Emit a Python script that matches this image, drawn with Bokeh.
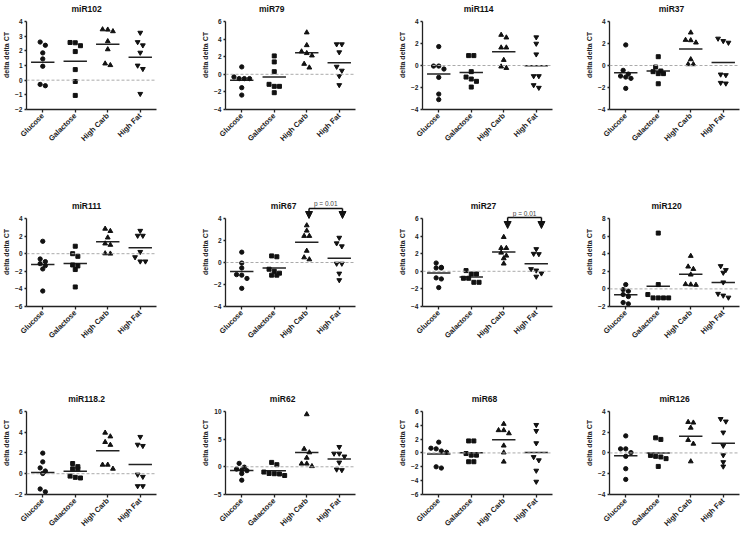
import math
import numpy as np
from bokeh.plotting import figure
from bokeh.layouts import column, row
from bokeh.models import Span, Arrow, NormalHead, Label, FixedTicker
from bokeh.embed import file_html
from bokeh.resources import INLINE

groups = ["Glucose", "Galactose", "High Carb", "High Fat"]

# values per panel: [Glucose, Galactose, High Carb, High Fat]
miR102 = [[2.38, 2.6, 1.86, 1.45, 0.95, -0.38, -0.29],
          [2.55, 2.35, 2.57, 1.95, 0.72, -0.09, -1.04],
          [3.44, 3.33, 3.46, 2.65, 2.1, 1.02, 1.13],
          [3.24, 2.6, 2.38, 1.88, 1.0, 0.77, -0.93]]
miR79 = [[0.84, -0.49, -0.49, -0.49, -0.3, -1.52, -2.36],
         [2.09, 1.41, 0.3, -1.37, -1.37, -1.14, -2.09],
         [4.75, 3.3, 2.59, 2.4, 2.13, 0.76, 1.18],
         [3.42, 3.42, 2.51, 0.87, 0.42, -0.19, -1.22]]
miR114 = [[1.72, -0.05, -0.05, -0.32, -1.08, -2.6, -3.1],
          [0.9, 0.9, -0.56, -1.05, -1.23, -1.44, -1.96],
          [2.78, 2.54, 1.63, 1.63, 0.5, -0.23, -0.1],
          [2.57, 1.99, 1.02, -0.96, -0.96, -2.02, -1.78]]
miR37 = [[1.87, -0.44, -0.78, -1.05, -1.17, -0.96, -2.08],
         [0.8, -0.14, -0.5, -0.74, -0.74, -0.56, -1.66],
         [2.99, 2.29, 2.08, 2.32, 0.56, 0.11, 0.11],
         [2.45, 2.08, 2.23, -0.81, -0.87, -1.63, -1.57]]
miR111 = [[1.41, -0.6, -0.9, -1.13, -1.36, -1.73, -4.24],
          [0.85, 0.0, -0.3, -1.39, -1.28, -1.8, -3.78],
          [2.83, 2.57, 1.83, 1.15, 1.0, 0.0, 0.03],
          [2.61, 2.05, 2.05, 0.21, -0.39, -0.87, -0.87]]
miR67 = [[0.94, -0.05, -0.5, -1.15, -1.1, -1.45, -2.35],
         [0.52, 0.6, -0.61, -0.8, -0.97, -1.15, -1.15],
         [3.37, 2.89, 2.41, 2.41, 1.06, 0.28, 0.46],
         [2.26, 1.75, 1.48, -0.1, -0.1, -1.0, -1.6]]
miR27 = [[0.94, 0.45, 0.38, 0.38, -0.75, -0.87, -1.85],
         [0.08, -0.3, -0.3, -0.79, -0.79, -1.25, -1.25],
         [3.89, 2.64, 2.64, 2.11, 1.77, 1.47, 0.87],
         [2.53, 1.96, 2.0, 0.26, 0.1, -0.23, -0.6]]
miR120 = [[0.49, -0.26, -0.08, -0.64, -0.87, -1.7, -1.55],
          [6.34, 0.49, -0.64, -1.02, -1.02, -1.02, -1.02],
          [3.74, 2.26, 2.53, 1.62, 0.45, 0.49, 0.53],
          [2.6, 2.15, 1.85, 0.75, -0.55, -0.75, -0.98]]
miR118_2 = [[1.98, 1.14, 0.56, 0.26, 0.02, -1.47, -1.74],
            [0.98, 0.47, 0.47, 0.68, -0.23, -0.41, -0.35],
            [3.94, 3.58, 3.04, 2.77, 0.86, 0.47, 0.86],
            [3.55, 2.68, 2.8, -0.08, -0.29, -1.19, -1.19]]
miR62 = [[0.61, -0.07, -0.41, -0.59, -0.7, -1.22, -2.42],
         [0.79, 0.38, -0.95, -1.3, -1.57, -1.25, -1.2],
         [9.46, 3.22, 2.59, 1.62, 0.56, 0.56, 0.1],
         [3.59, 2.39, 2.39, 1.87, 0.78, -0.59, -0.48]]
miR68 = [[1.55, 0.68, 0.27, 0.09, 0.59, -2.18, -2.0],
         [1.73, 1.73, -0.32, -0.32, -0.09, -1.27, -1.27],
         [4.18, 3.27, 3.27, 2.82, 1.05, 0.05, -1.27],
         [4.05, 3.18, 1.41, -1.05, -0.59, -2.55, -4.14]]
miR126 = [[1.64, 0.39, 0.39, 0.03, -0.33, -1.52, -2.55],
          [1.3, 1.45, -0.24, -0.39, -0.33, -0.55, -1.3],
          [2.97, 2.91, 2.42, 1.24, 0.88, -0.82],
          [3.27, 3.03, 1.97, 0.7, -0.21, -1.3, -0.88]]

titles = ["miR102", "miR79", "miR114", "miR37",
          "miR111", "miR67", "miR27", "miR120",
          "miR118.2", "miR62", "miR68", "miR126"]
yticks = [[-2, -1, 0, 1, 2, 3, 4], [-4, -2, 0, 2, 4, 6], [-4, -2, 0, 2, 4], [-4, -2, 0, 2, 4],
          [-6, -4, -2, 0, 2, 4], [-4, -2, 0, 2, 4], [-4, -2, 0, 2, 4, 6], [-2, 0, 2, 4, 6, 8],
          [-2, 0, 2, 4, 6], [-5, 0, 5, 10], [-6, -4, -2, 0, 2, 4, 6], [-4, -2, 0, 2, 4]]
panels = [miR102, miR79, miR114, miR37, miR111, miR67, miR27, miR120,
          miR118_2, miR62, miR68, miR126]
sig_label = "p = 0.01"

# ---- layout / style ----
FONT = "Liberation Sans"
MARKERS = ["circle", "square", "triangle", "inverted_triangle"]
MSIZE = [4.3, 4.0, 4.8, 4.8]
COL_W = [199, 197, 187, 159]
LEFT = 24
FRAME_W = 132
FRAME_H = 88          # height of the axis part of each frame
EXT = 21              # extra frame height above the axis (title / brackets)
ROW_BOTTOM = [88, 85, 34]
TITLE_DX = [-5, -19, -9, -3, -5, -7, -4, -8, -5, -8, -3, 0]


def swarm(vals, center, ppu, d=0.16, thr=4.5):
    order = sorted(range(len(vals)), key=lambda i: -vals[i])
    rows = []
    for i in order:
        if rows and (vals[rows[-1][0]] - vals[i]) * ppu < thr:
            rows[-1].append(i)
        else:
            rows.append([i])
    xs = [0.0] * len(vals)
    for r in rows:
        n = len(r)
        for k, i in enumerate(r):
            xs[i] = center + (k - (n - 1) / 2) * d
    return xs


def bracket(p, x0, x1, ytop, ytip, ytext):
    p.add_layout(Arrow(end=None, x_start=x0, y_start=ytop, x_end=x1, y_end=ytop,
                       line_width=1.5, line_color="#111111"))
    for x in (x0, x1):
        p.add_layout(Arrow(end=NormalHead(size=7, fill_color="#111111", line_color="#111111"),
                           x_start=x, y_start=ytop, x_end=x, y_end=ytip,
                           line_width=1.5, line_color="#111111"))
    p.add_layout(Label(x=(x0 + x1) / 2, y=ytext, text=sig_label, text_align="center",
                       text_baseline="middle", text_font_size="6.5px", text_color="#444444",
                       text_font=FONT))


figs = []
for idx, (name, data, ticks) in enumerate(zip(titles, panels, yticks)):
    r, c = divmod(idx, 4)
    bottom = ROW_BOTTOM[r]
    w = COL_W[c]
    h = EXT + FRAME_H + bottom
    ymin, ymax = ticks[0], ticks[-1]
    ppu = FRAME_H / (ymax - ymin)
    ytop = ymax + EXT / ppu
    p = figure(width=w, height=h, x_range=(0.5, 4.5), y_range=(ymin, ytop),
               output_backend="svg", toolbar_location=None,
               min_border_left=LEFT, min_border_right=w - LEFT - FRAME_W,
               min_border_top=0, min_border_bottom=bottom)
    p.outline_line_color = None
    p.grid.visible = False
    p.add_layout(Label(x=2.5 + TITLE_DX[idx] / (FRAME_W / 4), y=ymax + 13 / ppu, text=name,
                       text_align="center", text_baseline="middle",
                       text_font=FONT, text_font_size="8.5px", text_font_style="bold",
                       text_color="#111111"))

    p.xaxis.ticker = FixedTicker(ticks=[1, 2, 3, 4])
    p.xaxis.major_label_overrides = {i + 1: g for i, g in enumerate(groups)}
    p.xaxis.major_label_orientation = math.pi / 4
    p.yaxis.ticker = FixedTicker(ticks=ticks)
    p.yaxis.bounds = (ymin, ymax)
    p.yaxis.axis_label = "delta delta CT"
    for ax in (p.xaxis[0], p.yaxis[0]):
        ax.axis_line_width = 1.3
        ax.axis_line_color = "#222222"
        ax.major_tick_line_width = 1.3
        ax.major_tick_line_color = "#222222"
        ax.major_tick_in = 0
        ax.major_tick_out = 3
        ax.minor_tick_line_color = None
        ax.major_label_text_font = FONT
        ax.major_label_text_font_style = "bold"
        ax.major_label_text_color = "#222222"
        ax.axis_label_text_font = FONT
        ax.axis_label_text_font_style = "bold"
        ax.axis_label_text_color = "#222222"
        ax.axis_label_text_font_size = "7px"
    p.yaxis.major_tick_out = 2
    p.xaxis.major_label_text_font_size = "7.5px"
    p.xaxis.major_label_standoff = 2
    p.yaxis.major_label_text_font_size = "6.5px"
    p.yaxis.major_label_standoff = 2
    p.yaxis.axis_label_standoff = 2

    p.add_layout(Span(location=0, dimension="width", line_color="#aaaaaa",
                      line_dash="3 2", line_width=1))

    for g, vals in enumerate(data):
        xs = swarm(vals, g + 1, ppu)
        m = float(np.mean(vals))
        p.segment(x0=[g + 1 - 0.36], y0=[m], x1=[g + 1 + 0.36], y1=[m],
                  line_color="#222222", line_width=1.5)
        p.scatter(x=xs, y=vals, marker=MARKERS[g], size=MSIZE[g],
                  fill_color="#111111", line_color="#111111")

    if name == "miR67":
        bracket(p, 3.07, 4.1, ymax + 10 / ppu, ymax, ymax + 15 / ppu)
    if name == "miR27":
        bracket(p, 3.12, 4.16, ymax + 1 / ppu, ymax - 10 / ppu, ymax + 5.5 / ppu)
    figs.append(p)

layout = column(row(*figs[0:4]), row(*figs[4:8]), row(*figs[8:12]))
open("out.html", "w").write(file_html(layout, INLINE))
